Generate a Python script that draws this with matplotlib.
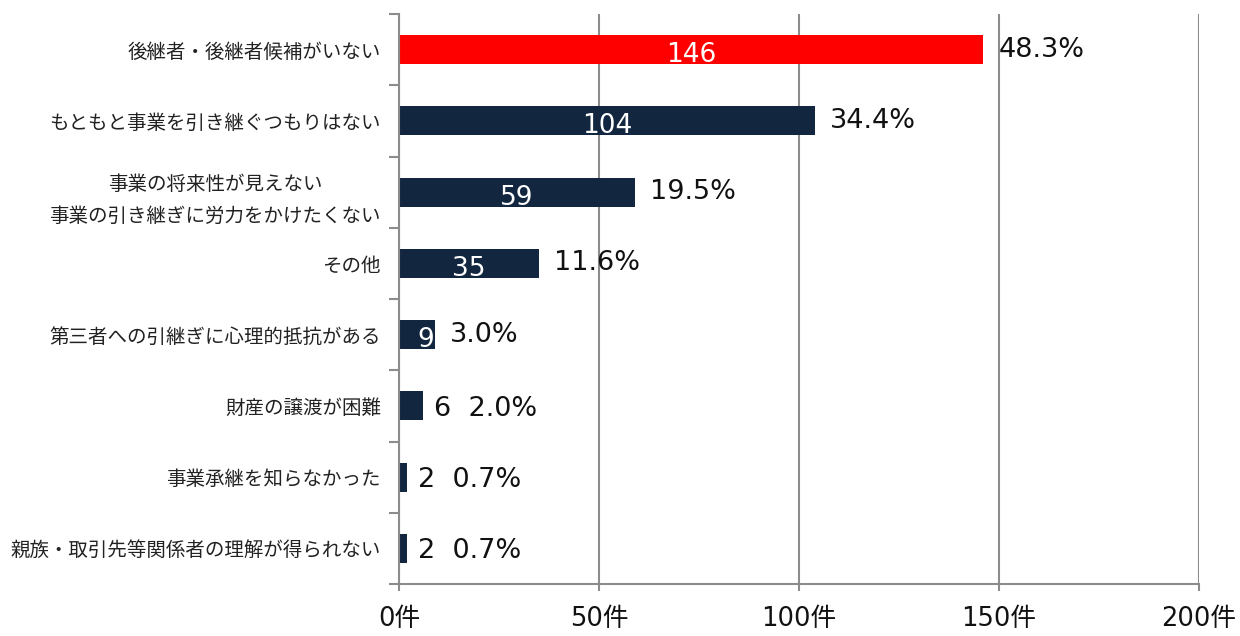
import matplotlib
matplotlib.use("Agg")
import matplotlib.pyplot as plt

categories = [
    "後継者・後継者候補がいない",
    "もともと事業を引き継ぐつもりはない",
    "事業の将来性が見えない\n事業の引き継ぎに労力をかけたくない",
    "その他",
    "第三者への引継ぎに心理的抵抗がある",
    "財産の譲渡が困難",
    "事業承継を知らなかった",
    "親族・取引先等関係者の理解が得られない",
]
counts = [146, 104, 59, 35, 9, 6, 2, 2]
percents = [48.3, 34.4, 19.5, 11.6, 3.0, 2.0, 0.7, 0.7]
xticks = [0, 50, 100, 150, 200]
xtick_labels = ["0件", "50件", "100件", "150件", "200件"]

RED = "#FF0000"
NAVY = "#13263F"
GRAY = "#8C8C8C"
NUM_FONT = ["DejaVu Sans", "Noto Sans CJK JP"]
JP_FONT = ["Noto Sans CJK JP", "DejaVu Sans"]

fig = plt.figure(figsize=(12.4, 6.36), dpi=100)
ax = fig.add_axes([399 / 1240, 1 - 584 / 636, 800 / 1240, 570 / 636])

n = len(categories)
ypos = list(range(n))
colors = [RED] + [NAVY] * (n - 1)
ax.barh(ypos, counts, height=0.41, color=colors, zorder=3)

ax.set_xlim(0, 200)
ax.set_ylim(n - 0.5, -0.5)

# x axis
ax.set_xticks(xticks)
ax.set_xticklabels(xtick_labels, fontsize=18.5, family=NUM_FONT, color="#111111")
ax.tick_params(axis="x", length=5, width=1.5, color=GRAY, pad=11)
ax.grid(axis="x", color=GRAY, linewidth=1.5, zorder=0)

# y axis: boundary ticks (major) and labels at centers (minor)
ax.set_yticks([i - 0.5 for i in range(n + 1)])
ax.set_yticklabels([])
ax.tick_params(axis="y", which="major", length=7, width=1.5, color=GRAY, direction="out")
ax.set_yticks(ypos, minor=True)
ax.set_yticklabels(categories, minor=True, fontsize=14, family=JP_FONT,
                   color="#222222", linespacing=1.7, multialignment="center")
ax.tick_params(axis="y", which="minor", length=0, pad=13)

for s in ["top", "right"]:
    ax.spines[s].set_visible(False)
for s in ["left", "bottom"]:
    ax.spines[s].set_color(GRAY)
    ax.spines[s].set_linewidth(1.5)
    ax.spines[s].set_zorder(4)

for y, v, p in zip(ypos, counts, percents):
    if v >= 9:
        ax.annotate(str(v), xy=(v / 2 if v > 9 else v, y),
                    xytext=(0 if v > 9 else -7, -4), textcoords="offset points",
                    ha="center", va="center", color="white", fontsize=19,
                    family=NUM_FONT, zorder=5)
        ax.annotate(f"{p:.1f}%", xy=(v, y), xytext=(11, 0), textcoords="offset points",
                    ha="left", va="center", color="#111111", fontsize=19.5,
                    family=NUM_FONT, zorder=5)
    else:
        ax.annotate(f"{v}  {p:.1f}%", xy=(v, y), xytext=(8, -2), textcoords="offset points",
                    ha="left", va="center", color="#111111", fontsize=19.5,
                    family=NUM_FONT, zorder=5)

fig.savefig("out.png", dpi=100)
